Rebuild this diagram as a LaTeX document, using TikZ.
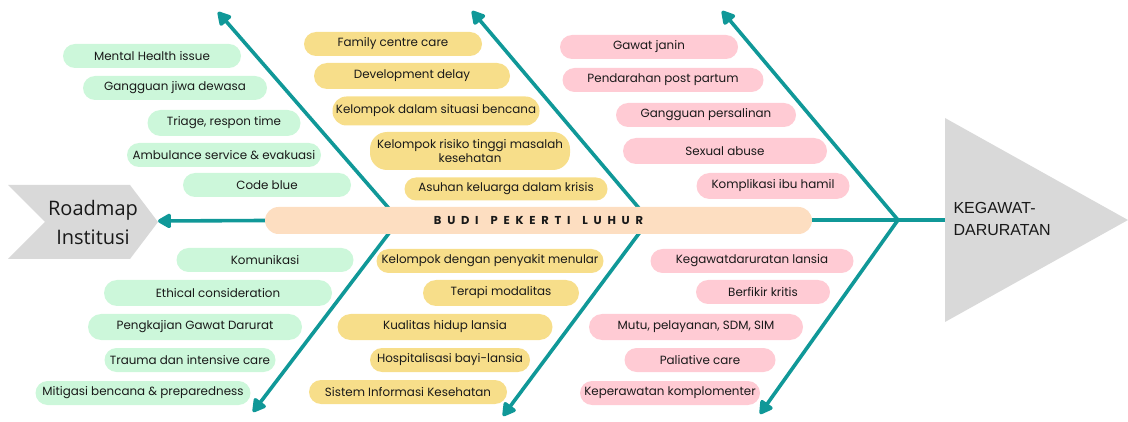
\documentclass[tikz,border=0pt]{standalone}
\usepackage{fontspec}
\setmainfont{Poppins}
\newfontfamily\roadfont{Open Sans}
\newfontfamily\kegfont{Liberation Sans}
\newfontfamily\barfont[LetterSpace=50]{Poppins}
\usetikzlibrary{arrows.meta}
\definecolor{tealc}{RGB}{16,152,152}
\definecolor{mint}{RGB}{204,247,218}
\definecolor{sand}{RGB}{247,222,138}
\definecolor{rose}{RGB}{255,203,212}
\definecolor{peach}{RGB}{253,222,193}
\definecolor{greyc}{RGB}{217,217,217}
\definecolor{ink}{RGB}{25,25,25}
\tikzset{
  pill/.style={rounded corners=12pt, minimum height=24pt, inner sep=1pt, text=ink,
    font=\fontsize{11.9}{14}\selectfont},
  gpill/.style={pill, fill=mint},
  ypill/.style={pill, fill=sand},
  rpill/.style={pill, fill=rose},
  conn/.style={draw=tealc, line width=3.6pt},
  arr/.style={conn, -{Triangle[length=15pt,width=16pt,round]}},
}
\begin{document}
\begin{tikzpicture}[x=1pt,y=-1pt]
\useasboundingbox (0,0) rectangle (1128,422);
% end shapes
\fill[greyc] (8,185) -- (130,185) -- (158,222) -- (130,259) -- (8,259) -- (45,222) -- cycle;
\coordinate (chevtip) at (158,221);
\node[font=\roadfont\fontsize{20}{29}\selectfont, text=ink, align=center] (road) at (93,223) {Roadmap\\Institusi};
\fill[greyc] (945,118) -- (1128,220) -- (945,322) -- cycle;
\coordinate (triW) at (945,220);
\node[font=\kegfont\fontsize{16}{22}\selectfont, text=ink, align=left, anchor=west] (keg) at (950,219) {KEGAWAT-\\DARURATAN};
% junctions and tips
\coordinate (J1) at (399,220);
\coordinate (J2) at (649,220);
\coordinate (J3) at (898,220);
\coordinate (T1) at (218,12);
\coordinate (T2) at (472,11);
\coordinate (T3) at (722,11);
\coordinate (B1) at (253,412);
\coordinate (B2) at (503,416);
\coordinate (B3) at (760,414);
\draw[arr] (J1) -- (T1);
\draw[arr] (J1) -- (B1);
\draw[arr] (J2) -- (T2);
\draw[arr] (J2) -- (B2);
\draw[arr] (J3) -- (T3);
\draw[arr] (J3) -- (B3);
% spine
\node[fill=peach, rounded corners=13.5pt, minimum width=547pt, minimum height=27pt, inner sep=0pt,
  font=\barfont\bfseries\fontsize{11.5}{13}\selectfont, text=ink] (bar) at (538.5,220.5) {BUDI\hspace{12pt}PEKERTI\hspace{12pt}LUHUR};
\draw[arr] (bar.west) -- (chevtip);
\draw[conn] (bar.east |- J3) -- (J3) -- (triW);
% green
\node[gpill, minimum width=178pt] (g1) at (152,56) {Mental Health issue};
\node[gpill, minimum width=184pt] (g2) at (175,88) {Gangguan jiwa dewasa};
\node[gpill, minimum width=153pt, minimum height=26pt, rounded corners=13pt] (g3) at (224,123) {Triage, respon time};
\node[gpill, minimum width=194pt] (g4) at (224,155) {Ambulance service \& evakuasi};
\node[gpill, minimum width=168pt] (g5) at (267,185) {Code blue};
\node[gpill, minimum width=177pt] (g6) at (265,260) {Komunikasi};
\node[gpill, minimum width=228pt, minimum height=26pt, rounded corners=13pt] (g7) at (218,293) {Ethical consideration};
\node[gpill, minimum width=214pt, minimum height=26pt, rounded corners=13pt] (g8) at (195,327) {Pengkajian Gawat Darurat};
\node[gpill, minimum width=171pt] (g9) at (190,360) {Trauma dan intensive care};
\node[gpill, minimum width=215pt] (g10) at (143,393) {Mitigasi bencana \& preparedness};
% yellow
\node[ypill, minimum width=178pt] (y1) at (393,44) {Family centre care};
\node[ypill, minimum width=196pt, minimum height=26pt, rounded corners=13pt] (y2) at (412,76) {Development delay};
\node[ypill, minimum width=207pt, minimum height=29pt, rounded corners=14pt] (y3) at (436,111) {Kelompok dalam situasi bencana};
\node[ypill, minimum width=200pt, minimum height=38pt, rounded corners=17pt, align=center] (y4) at (470,151) {Kelompok risiko tinggi masalah\\kesehatan};
\node[ypill, minimum width=203pt, minimum height=23pt, rounded corners=11.5pt] (y5) at (506,189) {Asuhan keluarga dalam krisis};
\node[ypill, minimum width=227pt] (y6) at (490,261) {Kelompok dengan penyakit menular};
\node[ypill, minimum width=156pt, minimum height=26pt, rounded corners=13pt] (y7) at (501,293) {Terapi modalitas};
\node[ypill, minimum width=215pt, minimum height=26pt, rounded corners=13pt] (y8) at (445,327) {Kualitas hidup lansia};
\node[ypill, minimum width=160pt] (y9) at (450,360) {Hospitalisasi bayi-lansia};
\node[ypill, minimum width=198pt] (y10) at (408,392) {Sistem Informasi Kesehatan};
% pink
\node[rpill, minimum width=178pt] (r1) at (649,47) {Gawat janin};
\node[rpill, minimum width=201pt] (r2) at (663,80) {Pendarahan post partum};
\node[rpill, minimum width=180pt] (r3) at (706,115) {Gangguan persalinan};
\node[rpill, minimum width=204pt, minimum height=26pt, rounded corners=13pt] (r4) at (725,151) {Sexual abuse};
\node[rpill, minimum width=153pt, minimum height=26pt, rounded corners=13pt] (r5) at (773,186) {Komplikasi ibu hamil};
\node[rpill, minimum width=203pt] (r6) at (752,261) {Kegawatdaruratan lansia};
\node[rpill, minimum width=134pt] (r7) at (763,292) {Berfikir kritis};
\node[rpill, minimum width=214pt, minimum height=26pt, rounded corners=13pt] (r8) at (696,327) {Mutu, pelayanan, SDM, SIM};
\node[rpill, minimum width=151pt] (r9) at (700,360) {Paliative care};
\node[rpill, minimum width=180pt] (r10) at (670,393) {Keperawatan komplomenter};
\end{tikzpicture}
\end{document}
